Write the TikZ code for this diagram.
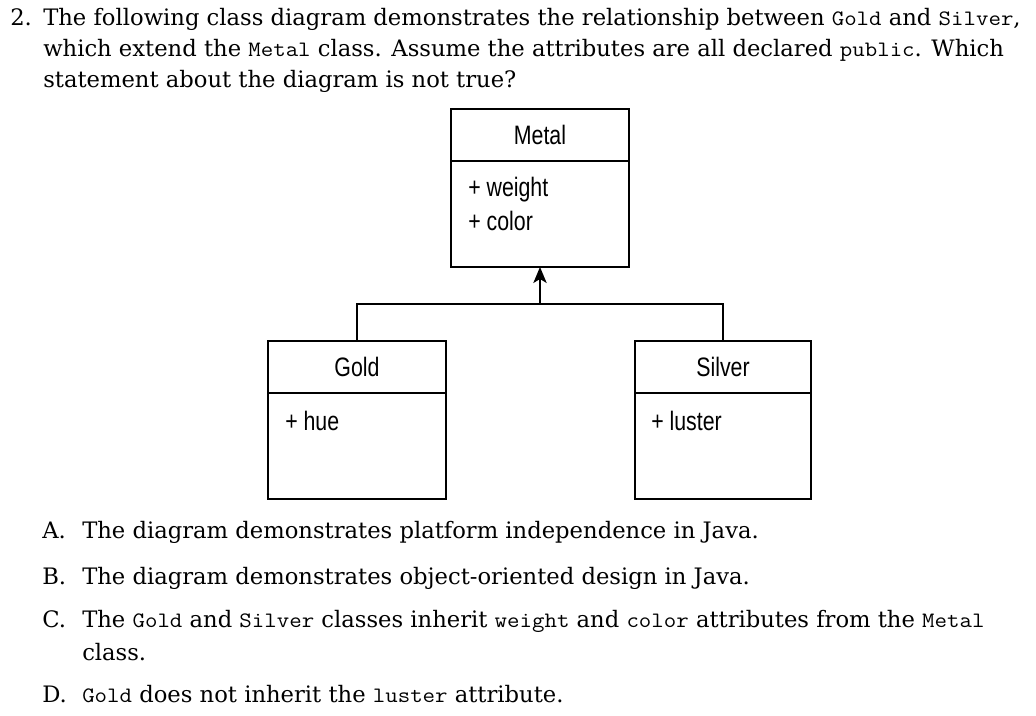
\documentclass[tikz,border=0pt]{standalone}
\usepackage{fontspec}
\setmainfont{DejaVu Serif}
\newfontfamily\codefont[FakeStretch=1.1]{Latin Modern Mono}
\newfontfamily\umlfont[FakeStretch=0.8]{Liberation Sans}
\usetikzlibrary{arrows.meta}
\newcommand{\cd}[1]{{\codefont\fontsize{16.5}{18}\selectfont #1}}
\tikzset{
  txt/.style={anchor=base west, inner sep=0pt, font=\fontsize{17}{20}\selectfont},
  umlhead/.style={draw, line width=1.3pt, outer sep=0pt, minimum width=133.5pt, minimum height=39pt, inner sep=0pt, font=\umlfont\fontsize{20}{24}\selectfont},
  umlbody/.style={draw, line width=1.3pt, outer sep=0pt, minimum width=133.5pt, minimum height=79.5pt, inner sep=0pt},
  attr/.style={anchor=base west, inner sep=0pt, font=\umlfont\fontsize{20}{24}\selectfont},
  link/.style={line width=1.3pt}
}
\begin{document}
\begin{tikzpicture}[x=0.75pt, y=-0.75pt]
\useasboundingbox (0,0) rectangle (1036,716);
% question text
\node[txt] (num) at (10,26) {2.};
\node[txt] (q1) at (43,26) {The following class diagram demonstrates the relationship between \cd{Gold} and \cd{Silver},};
\node[txt] (q2) at (43,57) {which extend the \cd{Metal} class. Assume the attributes are all declared \cd{public}. Which};
\node[txt] (q3) at (43,88) {statement about the diagram is not true?};
% classes
\node[umlhead] (metal) at (540,135) {Metal};
\node[umlbody, anchor=north] (metalbody) at (metal.south) {};
\node[attr] (mw) at (468,197) {+ weight};
\node[attr] (mc) at (468,231) {+ color};
\node[umlhead] (gold) at (357,367) {Gold};
\node[umlbody, anchor=north] (goldbody) at (gold.south) {};
\node[attr] (gh) at (285,431) {+ hue};
\node[umlhead, minimum width=132pt] (silver) at (723,367) {Silver};
\node[umlbody, anchor=north, minimum width=132pt] (silverbody) at (silver.south) {};
\node[attr] (sl) at (651,431) {+ luster};
% connectors
\coordinate (junction) at (540,304);
\draw[link] (gold.north) |- (junction) -| (silver.north);
\draw[link, -{Stealth[length=12pt,width=10pt,inset=3pt]}] (junction) -- (metalbody.south);
% options
\node[txt] (la) at (42,539) {A.};
\node[txt] (oa) at (82,539) {The diagram demonstrates platform independence in Java.};
\node[txt] (lb) at (42,585) {B.};
\node[txt] (ob) at (82,585) {The diagram demonstrates object-oriented design in Java.};
\node[txt] (lc) at (42,628) {C.};
\node[txt] (oc) at (82,628) {The \cd{Gold} and \cd{Silver} classes inherit \cd{weight} and \cd{color} attributes from the \cd{Metal}};
\node[txt] (oc2) at (82,660) {class.};
\node[txt] (ld) at (42,702) {D.};
\node[txt] (od) at (82,702) {\cd{Gold} does not inherit the \cd{luster} attribute.};
\end{tikzpicture}
\end{document}
